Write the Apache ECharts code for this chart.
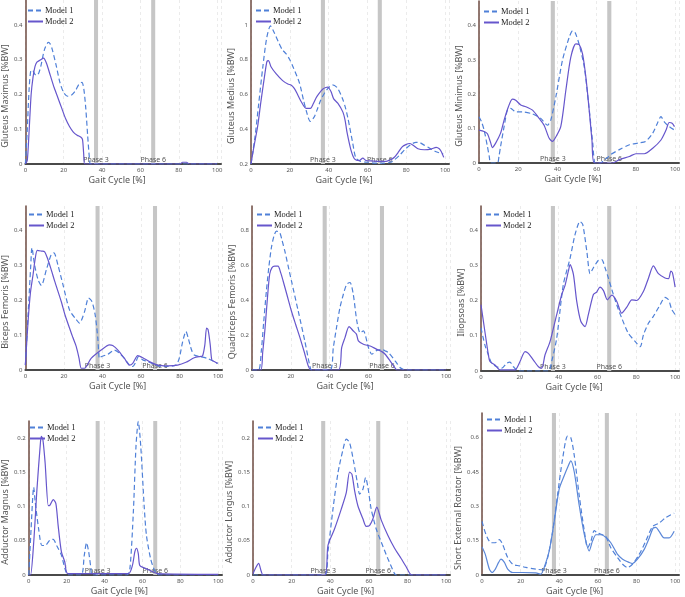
<!DOCTYPE html>
<html><head><meta charset="utf-8">
<script src="https://cdn.jsdelivr.net/npm/echarts@6/dist/echarts.min.js"></script>
<style>html,body{margin:0;padding:0;background:#fff}#c{width:685px;height:597px}</style>
</head><body><div id="c"></div>
<script>
// ---- data ----
const muscleNames = ['Gluteus Maximus [%BW]','Gluteus Medius [%BW]','Gluteus Minimus [%BW]','Biceps Femoris [%BW]','Quadriceps Femoris [%BW]','Iliopsoas [%BW]','Adductor Magnus [%BW]','Adductor Longus [%BW]','Short External Rotator [%BW]'];
const xTitle = 'Gait Cycle [%]';
const seriesNames = ['Model 1','Model 2'];
const phaseNames = ['Phase 3','Phase 6'];
const phase3Start = [35.8,36,36.6,36.4,36.4,36,35.3,35.3,36.2];
const phase6Start = [65.6,65.3,65.4,66.2,65.9,65,65.7,63.8,63.6];
const phaseWidth = 2.1;
const yMin = [0,0.2,0,0,0,0,0,0,0];
const yMax = [0.472,1.144,0.472,0.469,0.937,0.468,0.2245,0.2245,0.708];
const yStep = [0.1,0.2,0.1,0.1,0.2,0.1,0.05,0.05,0.15];

const gmaxM1 = [[0,0],[1,0.1],[2,0.22],[3,0.27],[4,0.268],[5,0.258],[6,0.255],[7,0.262],[8,0.28],[10,0.33],[12,0.35],[13,0.345],[14,0.33],[16,0.285],[18,0.235],[20,0.205],[22,0.195],[24,0.198],[26,0.21],[28,0.23],[29.5,0.235],[30.5,0.215],[31.5,0.16],[32.5,0.08],[33.5,0.01],[34,0],[100,0]];
const gmaxM2 = [[0,0],[1,0.01],[2,0.1],[3,0.2],[4,0.25],[5,0.28],[6,0.293],[8,0.3],[9.5,0.305],[11,0.29],[13,0.255],[15,0.22],[17,0.19],[19,0.16],[21,0.13],[23,0.108],[25,0.092],[27,0.083],[29,0.077],[29.8,0.07],[30.4,0.03],[31,0],[80.5,0],[82,0.005],[84,0.005],[85.5,0],[100,0]];
const gmedM1 = [[0,0.2],[2,0.35],[4,0.55],[6,0.75],[8,0.92],[10,0.995],[12,0.955],[14,0.905],[16,0.86],[18,0.835],[20,0.8],[22,0.75],[25,0.665],[27,0.57],[28.5,0.505],[30.5,0.445],[32.5,0.47],[34,0.51],[36,0.57],[38,0.61],[40,0.64],[42,0.655],[44.5,0.638],[47,0.58],[48.5,0.53],[50,0.46],[52.4,0.32],[54,0.235],[56.5,0.215],[60,0.21],[64,0.205],[68,0.205],[72,0.21],[74,0.225],[76.5,0.25],[79,0.28],[82,0.31],[85,0.325],[87,0.323],[89,0.31],[91,0.298],[95,0.272],[99,0.258]];
const gmedM2 = [[0,0.2],[1.5,0.3],[3.4,0.415],[5,0.55],[6.9,0.7],[8.2,0.79],[9,0.795],[10.3,0.76],[12.9,0.72],[16.3,0.68],[19,0.66],[20.6,0.655],[22.3,0.635],[24,0.6],[25.8,0.56],[28.4,0.52],[30.6,0.52],[32,0.545],[33.5,0.58],[35,0.605],[36.9,0.63],[38.5,0.64],[39.5,0.642],[41.2,0.617],[42.6,0.575],[44.7,0.55],[47.3,0.5],[48.5,0.45],[49.5,0.38],[51.5,0.28],[53.3,0.23],[55.8,0.22],[57.6,0.234],[59.3,0.22],[62,0.218],[66,0.215],[69.6,0.215],[72,0.225],[74,0.24],[75.6,0.263],[78,0.3],[80,0.313],[81.6,0.318],[83.3,0.31],[86,0.288],[89.3,0.282],[92.8,0.286],[95.4,0.296],[97,0.288],[98,0.272],[99.3,0.238]];
const gminM1 = [[0,0.135],[1.3,0.12],[2.6,0.096],[4.3,0.048],[5.2,0.02],[6,0],[9.4,0],[10.2,0.02],[11,0.048],[12.8,0.106],[14.5,0.154],[16.2,0.159],[18.7,0.149],[22,0.149],[27.3,0.143],[31.5,0.13],[34.9,0.11],[36.6,0.125],[39.2,0.193],[42.6,0.3],[46,0.366],[47.7,0.385],[49,0.38],[51,0.347],[53.7,0.28],[55.9,0.173],[58,0.058],[59.3,0],[62,0],[64,0.01],[65.6,0.016],[67,0.024],[71.6,0.039],[76.7,0.053],[81,0.058],[85,0.063],[88.6,0.087],[91,0.116],[92.8,0.135],[94.5,0.12],[97,0.106],[99.7,0.096]];
const gminM2 = [[0,0.096],[2.6,0.092],[4.3,0.085],[6,0.058],[6.8,0.045],[8.5,0.058],[11,0.087],[12.8,0.125],[15,0.164],[17,0.186],[18.7,0.183],[21.3,0.169],[23.9,0.164],[27.3,0.154],[30.7,0.13],[33.2,0.11],[35.8,0.072],[37.5,0.063],[38.8,0.072],[41.7,0.106],[44.3,0.212],[46.8,0.308],[49.4,0.347],[51.1,0.345],[52.8,0.318],[54.5,0.25],[56.2,0.154],[57.6,0.067],[58.8,0],[68,0],[71.6,0.01],[76.7,0.019],[80,0.027],[84.3,0.027],[88.6,0.043],[92.8,0.067],[95.4,0.096],[97,0.118],[98.5,0.116],[99.7,0.106]];
const bfM1 = [[0,0.014],[1.4,0.158],[2.8,0.3],[3.4,0.35],[4.8,0.3],[6.6,0.258],[8.3,0.242],[10.9,0.287],[13.4,0.33],[14.8,0.335],[16.9,0.3],[19.5,0.244],[22.9,0.172],[26.4,0.144],[28.1,0.134],[30.7,0.167],[32.8,0.206],[34.5,0.196],[36.2,0.158],[37.6,0.09],[38.4,0.033],[39.3,0.038],[42.8,0.045],[46.2,0.057],[48.8,0.048],[51.4,0.033],[54,0.014],[55.7,0.01],[57.4,0.024],[58.6,0.038],[60.9,0.029],[63.4,0.024],[66.9,0.016],[70.3,0.01],[73.8,0.01],[78.1,0.014],[79.8,0.033],[81.6,0.081],[83.3,0.11],[84.5,0.091],[86.2,0.057],[87.6,0.043],[91,0.038],[94.5,0.033],[99.7,0.019]];
const bfM2 = [[0,0.014],[1.4,0.139],[2.6,0.22],[4,0.273],[5,0.315],[6.2,0.342],[8.3,0.34],[10,0.338],[11.7,0.316],[13.5,0.285],[15.2,0.254],[18.6,0.196],[20.7,0.155],[22.9,0.12],[24.7,0.092],[26.4,0.067],[27.8,0.035],[29,0.005],[30.7,0.005],[34.1,0.033],[39.3,0.057],[43.6,0.072],[45.3,0.07],[48,0.057],[51.4,0.033],[54,0.014],[55.7,0.019],[58.3,0.041],[60.9,0.035],[64.3,0.024],[68.6,0.014],[73.8,0.012],[79,0.014],[83.3,0.022],[87.6,0.035],[91,0.039],[91.9,0.04],[93.1,0.072],[94,0.12],[94.8,0.115],[95.9,0.072],[96.7,0.029],[98,0.024],[99.7,0.019]];
const qfM1 = [[0,0],[3.4,0],[4.8,0.109],[6,0.27],[7.4,0.45],[8.7,0.59],[10,0.7],[11.3,0.765],[12.6,0.794],[14.3,0.785],[15.5,0.74],[16.9,0.68],[18.5,0.6],[20.3,0.51],[23.8,0.337],[27.2,0.166],[29.8,0.023],[30.7,0],[40.2,0],[41.9,0.128],[43.5,0.24],[45.3,0.356],[47,0.43],[48.8,0.49],[50.5,0.5],[52.2,0.43],[54,0.28],[55.7,0.213],[57.4,0.223],[60,0.128],[61.7,0.09],[64.3,0.112],[66.9,0.118],[68.5,0.11],[70.3,0.099],[73.8,0.051],[76.4,0.013],[78.1,0.003],[80,0],[100,0]];
const qfM2 = [[0,0],[4.5,0],[5.5,0.1],[6.6,0.223],[7.8,0.39],[9.1,0.547],[10.3,0.585],[11.7,0.594],[13.4,0.594],[14.8,0.555],[16,0.51],[18,0.43],[20.3,0.337],[22.5,0.26],[24.7,0.185],[27,0.1],[29,0.023],[30.3,0],[44.5,0],[46.2,0.128],[47.9,0.185],[50,0.248],[52.2,0.223],[53.8,0.205],[54.8,0.166],[57.4,0.147],[60.9,0.137],[64.3,0.118],[66.9,0.105],[68.6,0.09],[71.2,0.051],[73.8,0.01],[74.7,0],[100,0]];
const ilM1 = [[0,0.122],[2,0.074],[3.8,0.046],[5.5,0.022],[8.1,0.012],[10.7,0.008],[13.2,0.022],[14.9,0.025],[16.7,0.012],[19.2,0],[34.7,0],[36.4,0.027],[39,0.093],[42.4,0.245],[45.9,0.32],[48.5,0.388],[51,0.424],[52.4,0.416],[54.5,0.34],[56.2,0.276],[57.9,0.293],[60.5,0.314],[62.2,0.316],[63.9,0.293],[65.6,0.264],[67.4,0.231],[69.9,0.188],[72.5,0.15],[75.9,0.107],[79.4,0.084],[82,0.069],[83.7,0.103],[86.3,0.136],[88.8,0.155],[92.3,0.188],[94.8,0.209],[96.6,0.202],[98.3,0.174],[100,0.16]];
const ilM2 = [[0,0.188],[2,0.112],[3.8,0.046],[4.6,0.027],[7.2,0.017],[9.8,0.003],[12.4,0.003],[14.9,0.003],[17.5,0.003],[20.1,0.027],[22.7,0.055],[24.4,0.05],[27,0.031],[29.6,0.012],[31.3,0.008],[33,0.046],[35.6,0.084],[39,0.16],[41.6,0.217],[43.3,0.243],[45,0.283],[45.9,0.302],[47.6,0.274],[49.3,0.198],[51.4,0.141],[53.6,0.126],[55.3,0.16],[57.9,0.217],[59.6,0.224],[61.3,0.238],[63.1,0.228],[65.1,0.202],[67.4,0.215],[69.9,0.198],[72.5,0.164],[75.1,0.181],[77.7,0.202],[80.2,0.2],[83.7,0.226],[86.3,0.264],[88.8,0.298],[91.4,0.276],[94.8,0.264],[96.6,0.262],[97.8,0.283],[98.6,0.279],[100,0.238]];
const amM1 = [[0,0],[1.2,0.067],[2.6,0.128],[3.4,0.106],[5.2,0.067],[6.9,0.043],[8.6,0.043],[11.2,0.051],[12.9,0.052],[14.7,0.043],[17.2,0.029],[19,0.01],[20.7,0],[27.6,0],[29.3,0.029],[30.5,0.047],[31.6,0.034],[32.8,0.01],[33.6,0],[51.7,0],[53.4,0.01],[55.2,0.092],[56.6,0.188],[57.8,0.224],[59.1,0.188],[60.9,0.101],[62.1,0.058],[64.3,0.024],[66.4,0.007],[69,0],[100,0]];
const amM2 = [[0,0],[0.9,0],[2.6,0.048],[4.3,0.125],[6,0.188],[6.6,0.202],[7.4,0.198],[8.6,0.164],[10.3,0.101],[11.2,0.102],[12.9,0.11],[14.3,0.104],[15.5,0.072],[17.2,0.034],[19,0.019],[20.7,0.002],[52.6,0.002],[54.7,0.014],[56,0.034],[56.9,0.039],[57.8,0.031],[58.6,0.014],[61.2,0.01],[63.8,0.007],[68.1,0.002],[100,0.001]];
const alM1 = [[0,0],[37.1,0],[38.8,0.034],[41.4,0.096],[44,0.149],[46.6,0.183],[48.3,0.198],[50,0.193],[52.2,0.164],[54,0.135],[55.2,0.118],[56.9,0.125],[58.3,0.142],[59.5,0.128],[61.2,0.096],[63.8,0.067],[66.4,0.048],[69.8,0.024],[73.3,0.002],[74.1,0],[100,0]];
const alM2 = [[0,0.002],[1.7,0.012],[2.9,0.017],[4.3,0.005],[5.2,0],[37.1,0],[38.8,0.043],[42.2,0.067],[45.7,0.096],[48.3,0.12],[50,0.15],[51.2,0.147],[52.6,0.123],[54.3,0.101],[56.9,0.082],[58.6,0.071],[60.3,0.072],[62.1,0.082],[64.1,0.099],[66.4,0.08],[69.8,0.058],[73.3,0.039],[76.7,0.024],[79.3,0.012],[82.2,0],[100,0]];
const serM1 = [[0,0.234],[2.1,0.176],[4.7,0.141],[6.9,0.141],[9,0.155],[10.7,0.133],[13.3,0.076],[15.9,0.047],[19.3,0.04],[22.8,0.033],[27.9,0.026],[31.4,0.022],[34,0.076],[36.6,0.191],[39.1,0.349],[41.7,0.506],[44.3,0.607],[46,0.6],[47.8,0.521],[50.3,0.349],[53,0.191],[54.7,0.119],[56.4,0.148],[58.1,0.194],[59.8,0.184],[62.4,0.176],[64.1,0.169],[66.7,0.119],[70.2,0.076],[72.8,0.047],[75.3,0.033],[77.9,0.047],[81.4,0.09],[84.8,0.148],[88.3,0.212],[91.7,0.227],[95.2,0.251],[99.5,0.27]];
const serM2 = [[0,0.122],[1.7,0.09],[3.8,0.026],[5.2,0.011],[6.9,0.026],[8.6,0.055],[9.8,0.069],[11.6,0.055],[13.3,0.026],[15.9,0.011],[21,0.011],[27.9,0.009],[30.5,0.004],[32.2,0.033],[34.8,0.105],[37.4,0.234],[40,0.377],[42.6,0.435],[44.3,0.47],[46,0.499],[47.8,0.449],[50.3,0.306],[53,0.176],[55.5,0.105],[57.2,0.148],[59,0.176],[61.6,0.176],[64.1,0.165],[66.7,0.141],[70.2,0.09],[72.8,0.069],[76.2,0.055],[77.9,0.05],[80.5,0.069],[84,0.112],[86.6,0.162],[88.6,0.205],[90,0.208],[91.7,0.191],[94.3,0.162],[96.9,0.162],[99.5,0.191]];

const model1 = [gmaxM1,gmedM1,gminM1,bfM1,qfM1,ilM1,amM1,alM1,serM1];
const model2 = [gmaxM2,gmedM2,gminM2,bfM2,qfM2,ilM2,amM2,alM2,serM2];

// ---- layout (pixels) ----
const layout = [
  {l:23,t:0,w:198,h:164},{l:251,t:0,w:198,h:164},{l:479,t:1,w:200,h:162},
  {l:24,t:206,w:198,h:164},{l:252,t:206,w:198,h:164},{l:481,t:206,w:198,h:165},
  {l:25,t:421,w:197,h:155},{l:253,t:421,w:197,h:155},{l:482,t:413,w:197,h:164}
];
const C1 = '#4f80d8', C2 = '#6656cc', C2b = '#5b87d8';

const grid=[], xAxis=[], yAxis=[], series=[], legend=[];
layout.forEach((g,i)=>{
  grid.push({left:g.l, top:g.t, width:g.w, height:g.h});
  xAxis.push({type:'value', gridIndex:i, min:0, max:102, interval:20,
    name:xTitle, nameLocation:'middle', nameGap:12,
    nameTextStyle:{fontFamily:'Noto Sans', fontSize:9, color:'#555', padding:[0,12,0,0]},
    axisLine:{show:true, lineStyle:{color:'#4a4a4a', width:2}},
    axisTick:{show:false},
    axisLabel:{fontSize:6, color:'#555', margin:3, fontFamily:'Noto Sans'},
    splitLine:{show:true, lineStyle:{color:'#ebebeb', type:[3,3], width:1}}
  });
  yAxis.push({type:'value', gridIndex:i, min:yMin[i], max:yMax[i], interval:yStep[i],
    name:muscleNames[i], nameLocation:'middle', nameGap:13,
    nameTextStyle:{fontFamily:'Noto Sans', fontSize:9, color:'#555', padding:[0,28,0,0]},
    axisLine:{show:true, lineStyle:{color:'#6e4b42', width:1.5}},
    axisTick:{show:false},
    axisLabel:{fontSize:6, color:'#555', margin:3, fontFamily:'Noto Sans', showMaxLabel:false},
    splitLine:{show:false}
  });
  series.push({name:seriesNames[0], type:'line', xAxisIndex:i, yAxisIndex:i, data:model1[i],
    symbol:'none', smooth:0.25, z:3,
    lineStyle:{color:C1, width:1.2, type:[5,3]}, itemStyle:{color:C1},
    markArea:{silent:true, itemStyle:{color:'#c6c6c6'},
      label:{show:true, position:'insideBottom', distance:1, color:'#555', fontSize:7, fontFamily:'Noto Sans'},
      data:[[{xAxis:phase3Start[i], name:phaseNames[0]},{xAxis:phase3Start[i]+phaseWidth}],
            [{xAxis:phase6Start[i], name:phaseNames[1]},{xAxis:phase6Start[i]+phaseWidth}]]}
  });
  const c2 = i===8 ? C2b : C2;
  series.push({name:seriesNames[1], type:'line', xAxisIndex:i, yAxisIndex:i, data:model2[i],
    symbol:'none', smooth:0.25, z:4,
    lineStyle:{color:c2, width:1.2}, itemStyle:{color:c2}});
  legend.push({data:seriesNames, left:g.l+4, top:g.t + (i>=6 ? 2 : (i>=3 ? 4 : 6)) , orient:'vertical',
    itemWidth:15, itemHeight:6, itemGap:2, padding:0,
    itemStyle:{opacity:0},
    textStyle:{fontFamily:'Liberation Serif', fontSize:8.5, color:'#222', padding:[0,0,0,-3]}});
});

const chart = echarts.init(document.getElementById('c'), null, {renderer:'canvas'});
chart.setOption({backgroundColor:'#fff', animation:false, grid, xAxis, yAxis, series, legend});
</script></body></html>
